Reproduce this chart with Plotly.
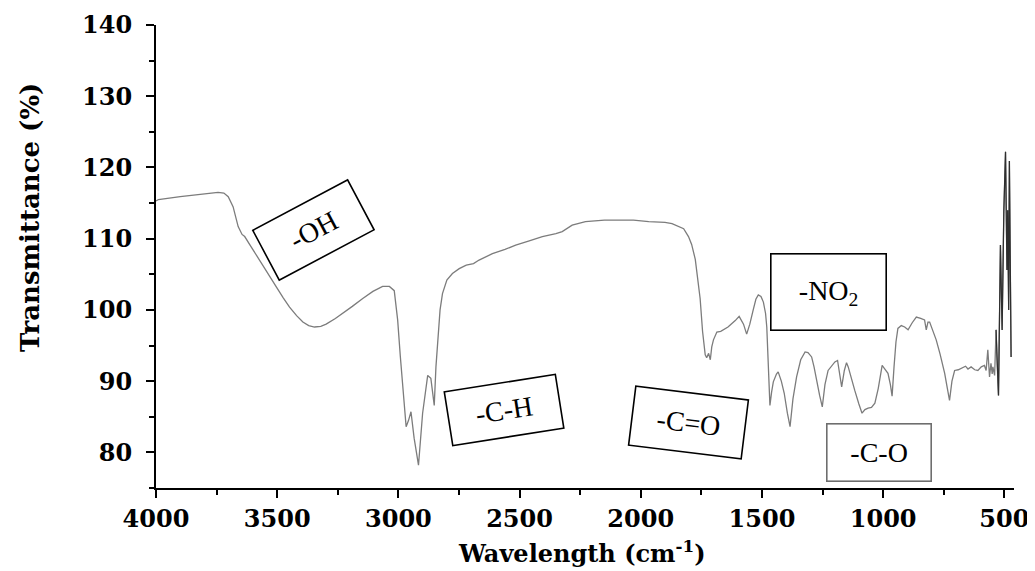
import plotly.graph_objects as go

# Wavenumber (cm-1) and transmittance (%)
wavenumber = [4000, 3990, 3900, 3800, 3744, 3720, 3702, 3682, 3661, 3645, 3634, 3610, 3572, 3540,
              3503, 3475, 3449, 3420, 3394, 3370, 3346, 3320, 3298, 3260, 3229, 3190, 3147, 3105,
              3065, 3037, 3017, 3003, 2992, 2982, 2968, 2958, 2948, 2935, 2917, 2900, 2886, 2879,
              2866, 2852, 2845, 2838, 2828, 2818, 2800, 2777, 2749, 2720, 2690, 2667, 2640, 2612,
              2560, 2516, 2460, 2406, 2350, 2324, 2283, 2228, 2150, 2104, 2030, 1967, 1900, 1871,
              1823, 1803, 1790, 1775, 1765, 1755, 1745, 1734, 1728, 1720, 1713, 1707, 1700, 1686,
              1670, 1658, 1640, 1624, 1610, 1594, 1585, 1576, 1563, 1550, 1536, 1525, 1515, 1504,
              1494, 1485, 1480, 1474, 1467, 1460, 1453, 1440, 1433, 1420, 1408, 1395, 1384, 1372,
              1357, 1340, 1322, 1310, 1295, 1285, 1275, 1262, 1251, 1240, 1227, 1210, 1199, 1188,
              1180, 1171, 1160, 1151, 1144, 1137, 1125, 1117, 1100, 1087, 1075, 1062, 1048, 1034,
              1020, 1004, 995, 980, 970, 963, 955, 947, 939, 925, 911, 897, 880, 863, 845, 829,
              822, 815, 808, 795, 781, 765, 746, 735, 726, 716, 705, 690, 678, 660, 650, 637, 622,
              609, 595, 582, 575, 568, 561, 555, 550, 547, 540, 534, 530, 524, 516, 509, 502, 495,
              489, 486, 482, 479, 472]
transmittance = [115.3, 115.5, 115.9, 116.3, 116.5, 116.4, 115.9, 114.5, 111.7, 110.6, 110.3, 109.0,
                 107.0, 105.2, 103.2, 101.7, 100.4, 99.2, 98.3, 97.8, 97.6, 97.7, 98.0, 98.8, 99.5,
                 100.5, 101.6, 102.6, 103.3, 103.3, 102.7, 98.6, 93.5, 88.8, 83.6, 84.5, 85.7, 82.0,
                 78.2, 85.5, 89.5, 90.8, 90.4, 86.6, 92.0, 96.0, 100.0, 102.3, 104.2, 105.1, 105.8,
                 106.3, 106.5, 107.0, 107.4, 107.9, 108.5, 109.1, 109.7, 110.3, 110.7, 111.0, 111.9,
                 112.4, 112.6, 112.6, 112.6, 112.4, 112.3, 112.1, 111.4, 110.3, 109.2, 107.1, 104.5,
                 101.6, 97.0, 93.7, 93.3, 93.9, 93.0, 94.8, 95.8, 96.9, 97.0, 97.2, 97.6, 98.1, 98.5,
                 99.1, 98.5, 98.0, 96.6, 98.0, 100.0, 101.5, 102.1, 101.9, 101.1, 99.5, 97.6, 92.0,
                 86.6, 88.5, 89.9, 91.0, 91.3, 90.0, 88.3, 85.5, 83.6, 87.5, 90.6, 93.0, 94.1, 94.0,
                 93.4, 92.0, 90.1, 88.0, 86.4, 89.5, 91.5, 92.3, 92.7, 92.9, 91.0, 89.2, 91.5, 92.6,
                 92.0, 91.1, 89.8, 88.7, 86.8, 85.5, 86.0, 86.2, 86.3, 86.9, 89.0, 92.2, 91.8, 91.1,
                 89.5, 87.9, 92.0, 95.5, 97.4, 97.8, 97.6, 97.2, 98.2, 99.0, 98.8, 98.6, 97.2, 98.3,
                 98.3, 97.0, 95.8, 93.8, 91.1, 89.0, 87.3, 90.0, 91.5, 91.6, 91.8, 92.1, 91.7, 92.0,
                 91.6, 91.5, 92.0, 92.2, 91.5, 94.4, 90.6, 92.5, 91.0, 92.0, 90.8, 97.2, 93.0, 88.0,
                 109.1, 97.2, 113.8, 122.2, 105.6, 114.0, 100.0, 120.9, 93.4]

x_ticks = [4000, 3500, 3000, 2500, 2000, 1500, 1000, 500]
y_ticks = [80, 90, 100, 110, 120, 130, 140]

# Functional-group labels: text, wavenumber, transmittance, angle
group_labels = ["-OH", "-C-H", "-C=O", "-NO<sub>2</sub>", "-C-O"]
label_x = [3350, 2564, 1805, 1225, 1015]
label_y = [111.2, 86.0, 84.2, 102.5, 80.0]
label_angle = [-28, -9, 7, 0, 0]
label_w = [106, 111, 112, 114, 103]
label_h = [55, 53, 58, 75, 56]
label_border = ["black", "black", "black", "black", "#6e6e6e"]

LABEL_FONT = "Liberation Serif"
AXIS_FONT = "DejaVu Serif"

# the page body has an 8px default margin; compensate so the plot area sits where the reference's does
W, H, OFF = 1035, 571, 8

fig = go.Figure()
fig.add_trace(go.Scatter(x=wavenumber, y=transmittance, mode="lines",
                         line=dict(color="#7c7c7c", width=1.3), showlegend=False))
# the crowded low-wavenumber end of the same spectrum renders darker in the reference
dense_idx = [i for i, w in enumerate(wavenumber) if w <= 534]
fig.add_trace(go.Scatter(x=[wavenumber[i] for i in dense_idx],
                         y=[transmittance[i] for i in dense_idx], mode="lines",
                         line=dict(color="#2e2e2e", width=1.2), showlegend=False))

for t, x, y, a, w, h, bc in zip(group_labels, label_x, label_y, label_angle, label_w, label_h, label_border):
    fig.add_annotation(x=x, y=y, xref="x", yref="y", text=t, showarrow=False,
                       textangle=a, width=w, height=h, borderpad=0,
                       bordercolor=bc, borderwidth=1.6, bgcolor="rgba(255,255,255,0)",
                       font=dict(family=LABEL_FONT, size=28, color="black"),
                       xanchor="center", yanchor="middle", align="center", valign="middle")

# axis titles placed like the reference (y title sits above the plot centre)
fig.add_annotation(x=-0.147, y=0.585, xref="paper", yref="paper", text="Transmittance (%)",
                   textangle=-90, showarrow=False, xanchor="center", yanchor="middle",
                   font=dict(family=AXIS_FONT, size=26, color="black", weight="bold"))
fig.add_annotation(x=0.497, y=-0.138, xref="paper", yref="paper", text="Wavelength (cm<sup>-1</sup>)",
                   showarrow=False, xanchor="center", yanchor="middle",
                   font=dict(family=AXIS_FONT, size=24, color="black", weight="bold"))

axis_common = dict(showline=True, linecolor="black", linewidth=2, ticks="outside",
                   tickcolor="black", tickwidth=2, ticklen=8, showgrid=False, zeroline=False,
                   mirror=False, automargin=False,
                   tickfont=dict(family=AXIS_FONT, size=24, color="black", weight="bold"))

fig.update_layout(
    width=W - OFF, height=H - OFF,
    margin=dict(l=156 - OFF, r=21, t=25 - OFF, b=83),
    paper_bgcolor="white", plot_bgcolor="white",
    xaxis=dict(range=[4000, 460], tickvals=x_ticks, ticktext=[str(v) for v in x_ticks],
               minor=dict(ticks="outside", ticklen=5, tickwidth=2, tickcolor="black",
                          dtick=250, tick0=500, showgrid=False),
               **axis_common),
    yaxis=dict(range=[75, 140], tickvals=y_ticks, ticktext=[str(v) for v in y_ticks],
               ticklabelstandoff=9,
               minor=dict(ticks="outside", ticklen=5, tickwidth=2, tickcolor="black",
                          dtick=5, tick0=75, showgrid=False),
               **axis_common),
)

fig.write_html("out.html")
